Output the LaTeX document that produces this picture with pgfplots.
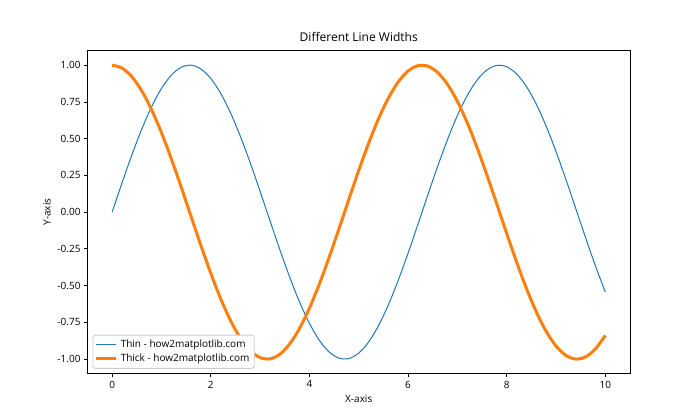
\documentclass[border=0pt]{standalone}
\usepackage{pgfplots}
\pgfplotsset{compat=1.18}
\usepackage{fontspec}
\setmainfont{Open Sans}
\definecolor{mplblue}{HTML}{1F77B4}
\definecolor{mplorange}{HTML}{FF7F0E}
\begin{document}
\begin{tikzpicture}
\path (0,0) rectangle (504pt,302.4pt);
\begin{axis}[
  at={(63pt,33.26pt)}, anchor=south west,
  scale only axis, width=390.6pt, height=232.8pt,
  xmin=-0.5, xmax=10.5, ymin=-1.1, ymax=1.1,
  xtick={0,2,4,6,8,10},
  ytick={-1,-0.75,-0.5,-0.25,0,0.25,0.5,0.75,1},
  yticklabel style={/pgf/number format/fixed,/pgf/number format/fixed zerofill,/pgf/number format/precision=2},
  /pgf/number format/assume math mode=true,
  tick align=outside, major tick length=2.5pt,
  xtick pos=lower, ytick pos=left,
  tick style={black, line width=0.58pt},
  axis line style={line width=0.58pt},
  ticklabel style={font=\fontsize{7.2}{8.6}\selectfont},
  xticklabel style={yshift=1pt},
  yticklabel style={xshift=1pt},
  title={Different Line Widths},
  title style={font=\fontsize{8.64}{10.4}\selectfont, yshift=-3pt},
  xlabel={X-axis}, ylabel={Y-axis},
  label style={font=\fontsize{7.2}{8.6}\selectfont},
  xlabel style={yshift=2pt},
  ylabel style={yshift=-2pt},
  legend style={at={(0,0)}, anchor=south west, xshift=3.6pt, yshift=3.6pt,
    font=\fontsize{7.2}{8.6}\selectfont, draw=black!20, rounded corners=2pt,
    inner sep=1.5pt, row sep=-1pt, line width=0.58pt},
  legend cell align=left,
  legend image code/.code={\draw[#1] (0cm,0cm) -- (14.4pt,0cm);},
]
\addplot[mplblue, line width=0.72pt, smooth] coordinates {
(0,0) (0.2,0.1987) (0.4,0.3894) (0.6,0.5646) (0.8,0.7174) (1.0,0.8415)
(1.2,0.9320) (1.4,0.9854) (1.6,0.9996) (1.8,0.9738) (2.0,0.9093)
(2.2,0.8085) (2.4,0.6755) (2.6,0.5155) (2.8,0.3350) (3.0,0.1411)
(3.2,-0.0584) (3.4,-0.2555) (3.6,-0.4425) (3.8,-0.6119) (4.0,-0.7568)
(4.2,-0.8716) (4.4,-0.9516) (4.6,-0.9937) (4.8,-0.9962) (5.0,-0.9589)
(5.2,-0.8835) (5.4,-0.7728) (5.6,-0.6313) (5.8,-0.4646) (6.0,-0.2794)
(6.2,-0.0831) (6.4,0.1165) (6.6,0.3115) (6.8,0.4941) (7.0,0.6570)
(7.2,0.7937) (7.4,0.8987) (7.6,0.9679) (7.8,0.9985) (8.0,0.9894)
(8.2,0.9407) (8.4,0.8546) (8.6,0.7344) (8.8,0.5849) (9.0,0.4121)
(9.2,0.2229) (9.4,0.0248) (9.6,-0.1743) (9.8,-0.3665) (10.0,-0.5440)
};
\addlegendentry{Thin - how2matplotlib.com}
\addplot[mplorange, line width=2.16pt, smooth] coordinates {
(0,1) (0.2,0.9801) (0.4,0.9211) (0.6,0.8253) (0.8,0.6967) (1.0,0.5403)
(1.2,0.3624) (1.4,0.1700) (1.6,-0.0292) (1.8,-0.2272) (2.0,-0.4161)
(2.2,-0.5885) (2.4,-0.7374) (2.6,-0.8569) (2.8,-0.9422) (3.0,-0.9900)
(3.2,-0.9983) (3.4,-0.9668) (3.6,-0.8968) (3.8,-0.7910) (4.0,-0.6536)
(4.2,-0.4903) (4.4,-0.3073) (4.6,-0.1122) (4.8,0.0875) (5.0,0.2837)
(5.2,0.4685) (5.4,0.6347) (5.6,0.7756) (5.8,0.8855) (6.0,0.9602)
(6.2,0.9965) (6.4,0.9932) (6.6,0.9502) (6.8,0.8694) (7.0,0.7539)
(7.2,0.6084) (7.4,0.4385) (7.6,0.2513) (7.8,0.0540) (8.0,-0.1455)
(8.2,-0.3392) (8.4,-0.5193) (8.6,-0.6787) (8.8,-0.8111) (9.0,-0.9111)
(9.2,-0.9748) (9.4,-0.9997) (9.6,-0.9847) (9.8,-0.9304) (10.0,-0.8391)
};
\addlegendentry{Thick - how2matplotlib.com}
\end{axis}
\end{tikzpicture}
\end{document}
